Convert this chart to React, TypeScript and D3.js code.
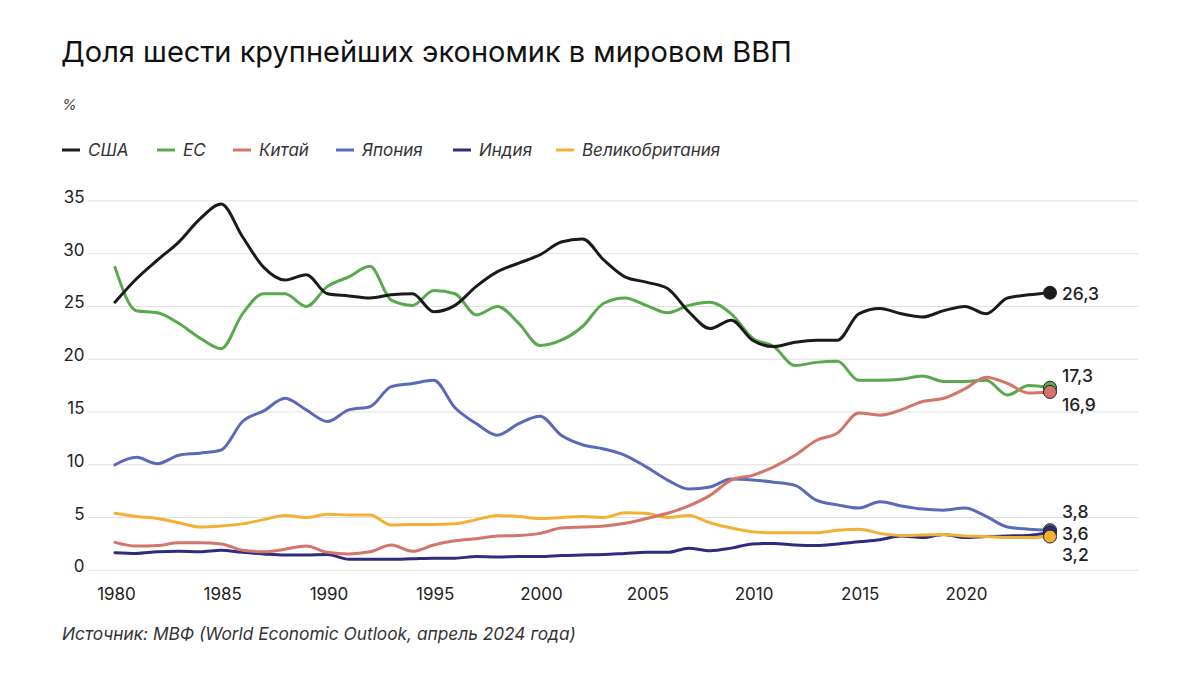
import React from "react";
import * as d3 from "d3";

const years = d3.range(1980, 2025);

const usa = [25.4, 27.6, 29.4, 31.1, 33.3, 34.7, 31.6, 28.7, 27.5, 28.0, 26.2, 26.0, 25.8, 26.1, 26.2, 24.5, 25.1, 26.9, 28.3, 29.1, 29.9, 31.1, 31.4, 29.4, 27.8, 27.3, 26.7, 24.5, 22.9, 23.7, 21.8, 21.2, 21.6, 21.8, 21.8, 24.3, 24.8, 24.3, 24.0, 24.6, 25.0, 24.3, 25.8, 26.1, 26.3];
const eu = [28.7, 24.6, 24.4, 23.4, 22.0, 21.0, 24.3, 26.2, 26.2, 25.0, 26.9, 27.8, 28.8, 25.6, 25.1, 26.5, 26.2, 24.2, 25.0, 23.4, 21.3, 21.8, 23.1, 25.3, 25.8, 25.1, 24.4, 25.1, 25.4, 24.3, 22.0, 21.2, 19.4, 19.7, 19.8, 18.0, 18.0, 18.1, 18.4, 17.9, 17.9, 18.0, 16.6, 17.5, 17.3];
const china = [2.65, 2.3, 2.35, 2.6, 2.6, 2.5, 1.9, 1.75, 2.0, 2.3, 1.7, 1.55, 1.75, 2.4, 1.8, 2.4, 2.8, 3.0, 3.25, 3.3, 3.5, 4.0, 4.1, 4.2, 4.45, 4.9, 5.4, 6.1, 7.1, 8.55, 9.0, 9.8, 10.9, 12.3, 13.0, 14.9, 14.7, 15.2, 16.0, 16.3, 17.2, 18.3, 17.7, 16.8, 16.9];
const japan = [10.0, 10.7, 10.1, 10.9, 11.1, 11.4, 14.1, 15.1, 16.3, 15.2, 14.1, 15.2, 15.5, 17.4, 17.7, 18.0, 15.4, 13.9, 12.8, 13.9, 14.6, 12.8, 11.9, 11.5, 10.9, 9.8, 8.55, 7.7, 7.9, 8.65, 8.55, 8.35, 8.05, 6.65, 6.2, 5.9, 6.5, 6.1, 5.8, 5.7, 5.9, 5.1, 4.1, 3.9, 3.8];
const india = [1.67, 1.6, 1.75, 1.8, 1.75, 1.9, 1.7, 1.55, 1.45, 1.45, 1.5, 1.05, 1.05, 1.05, 1.1, 1.15, 1.15, 1.3, 1.25, 1.3, 1.3, 1.4, 1.45, 1.5, 1.6, 1.7, 1.7, 2.1, 1.85, 2.1, 2.5, 2.55, 2.4, 2.35, 2.5, 2.7, 2.9, 3.25, 3.1, 3.4, 3.1, 3.2, 3.25, 3.3, 3.6];
const uk = [5.4, 5.1, 4.9, 4.5, 4.1, 4.2, 4.4, 4.8, 5.2, 5.0, 5.3, 5.25, 5.25, 4.3, 4.35, 4.35, 4.4, 4.8, 5.2, 5.1, 4.9, 5.0, 5.1, 5.0, 5.45, 5.4, 5.0, 5.2, 4.5, 4.0, 3.65, 3.55, 3.55, 3.55, 3.8, 3.9, 3.5, 3.3, 3.35, 3.4, 3.25, 3.2, 3.1, 3.1, 3.2];

const seriesNames = ["США", "ЕС", "Китай", "Япония", "Индия", "Великобритания"];
const seriesValues = [usa, eu, china, japan, india, uk];
const seriesColors = ["#1b1b1b", "#5aa94f", "#d4756c", "#5b6ab8", "#2f2c7e", "#f2b134"];
const endLabels = ["26,3", "17,3", "16,9", "3,8", "3,6", "3,2"];

const yTicks = [0, 5, 10, 15, 20, 25, 30, 35];
const xTicks = [1980, 1985, 1990, 1995, 2000, 2005, 2010, 2015, 2020];

const TITLE = "Доля шести крупнейших экономик в мировом ВВП";
const UNIT = "%";
const SOURCE = "Источник: МВФ (World Economic Outlook, апрель 2024 года)";

// layout
const FONT = "Inter, 'Noto Sans', sans-serif";
const legendX = [62, 157, 233, 336, 453, 556];
const endLabelY = [299.5, 382, 411, 517.5, 539.5, 561];
const lineOrder = [3, 4, 5, 1, 2, 0];
const dotOrder = [0, 1, 2, 3, 4, 5];

export default function App() {
  const x = d3.scaleLinear().domain([1980, 2024]).range([115, 1050]);
  const y = d3.scaleLinear().domain([0, 35]).range([570.3, 200.9]);
  const line = d3
    .line<number>()
    .x((_, i) => x(years[i]))
    .y((d) => y(d))
    .curve(d3.curveMonotoneX);
  const last = years.length - 1;

  return (
    <svg
      width={1200}
      height={675}
      style={{ position: "absolute", left: 0, top: 0, background: "#fff" }}
      fontFamily={FONT}
    >
      <rect width={1200} height={675} fill="#fff" />
      <text x={61} y={61.5} fontSize={29} fill="#111">
        {TITLE}
      </text>
      <text x={62} y={110} fontSize={15} fill="#444" fontStyle="italic">
        {UNIT}
      </text>
      {seriesNames.map((n, i) => (
        <g key={n} transform={`translate(${legendX[i]},150)`}>
          <line x1={0} x2={18} y1={0} y2={0} stroke={seriesColors[i]} strokeWidth={3} />
          <text x={26} y={6} fontSize={17} fontStyle="italic" fill="#333">
            {n}
          </text>
        </g>
      ))}
      {yTicks.map((t) => (
        <g key={t}>
          <line x1={88} x2={1138} y1={y(t)} y2={y(t)} stroke="#e0e0e0" strokeWidth={1} />
          <text x={84.5} y={y(t) + 2} fontSize={17} textAnchor="end" fill="#222">
            {t}
          </text>
        </g>
      ))}
      {xTicks.map((t) => (
        <text key={t} x={x(t) + 1.5} y={600} fontSize={17} textAnchor="middle" fill="#222">
          {t}
        </text>
      ))}
      {lineOrder.map((i) => (
        <path
          key={i}
          d={line(seriesValues[i]) || ""}
          fill="none"
          stroke={seriesColors[i]}
          strokeWidth={3}
          strokeLinejoin="round"
          strokeLinecap="round"
        />
      ))}
      {dotOrder.map((i) => (
        <circle
          key={i}
          cx={x(years[last])}
          cy={y(seriesValues[i][last])}
          r={6.5}
          fill={seriesColors[i]}
          stroke="#222"
          strokeWidth={1}
        />
      ))}
      {endLabels.map((l, i) => (
        <text key={l} x={1062} y={endLabelY[i]} fontSize={17.5} fontWeight={500} fill="#222">
          {l}
        </text>
      ))}
      <text x={62} y={640} fontSize={17.3} fontStyle="italic" fill="#333">
        {SOURCE}
      </text>
    </svg>
  );
}
